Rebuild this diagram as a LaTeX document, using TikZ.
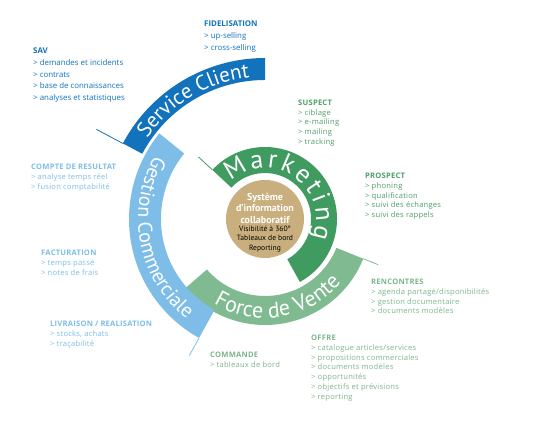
\documentclass[tikz,border=0pt]{standalone}
\usepackage{fontspec}
\setmainfont{Open Sans}
\newfontfamily\ringfont{PT Sans}
\newfontfamily\lblfont[LetterSpace=3]{Open Sans}
\usetikzlibrary{decorations.text,calc}
\definecolor{dblue}{HTML}{1273BC}
\definecolor{lblue}{HTML}{7DBDE7}
\definecolor{dgreen}{HTML}{3F9B5F}
\definecolor{lgreen}{HTML}{80BA90}
\definecolor{beige}{HTML}{C9AF7E}
\definecolor{tdgreen}{HTML}{4E9E68}
\definecolor{tlgreen}{HTML}{7DB58C}
\newcommand\myring[5]{\fill[#1] ($(C)+(#2:#4pt)$) arc[start angle=#2,end angle=#3,radius=#4pt] -- ($(C)+(#3:#5pt)$) arc[start angle=#3,end angle=#2,radius=#5pt] -- cycle;}
\begin{document}
\begin{tikzpicture}[x=1pt,y=1pt,
  lbl/.style={anchor=north west,inner sep=0pt,align=left,font=\lblfont\fontsize{7.6}{9.9}\selectfont},
  lblbig/.style={anchor=north west,inner sep=0pt,align=left,font=\fontsize{7.9}{11.6}\selectfont},
  tick/.style={line width=0.8pt}]
\useasboundingbox (0,0) rectangle (548,435);
\coordinate (C) at (265,216);
% rings
\myring{dgreen}{137}{-61}{46}{72}
\myring{lgreen}{221}{338}{77}{106}
\myring{lblue}{141}{241}{104}{136}
\myring{dblue}{152}{90}{139}{161}
% ticks
\draw[tick,dgreen] ($(C)+(137:72pt)$) -- ($(C)+(137:91pt)$);
\draw[tick,dblue] ($(C)+(152:161pt)$) -- ($(C)+(152:191pt)$);
\draw[tick,lblue] ($(C)+(241:136pt)$) -- ($(C)+(241:156pt)$);
\draw[tick,lgreen] ($(C)+(338:106pt)$) -- ($(C)+(338:122pt)$);
% ring texts
\path[decorate,decoration={text along path,text align=center,
  text={|\ringfont\fontsize{21}{21}\selectfont\color{white}|Service Client}}]
  ($(C)+(152:142.5pt)$) arc[start angle=152,end angle=90,radius=142.5pt];
\path[decorate,decoration={text along path,text align=fit to path,
  text={|\ringfont\fontsize{26}{26}\selectfont\color{white}|Marketing}}]
  ($(C)+(132:51pt)$) arc[start angle=132,end angle=-22,radius=51pt];
\path[decorate,decoration={text along path,text align=center,
  text={|\ringfont\fontsize{20}{20}\selectfont\color{white}|Gestion Commerciale}}]
  ($(C)+(141:127pt)$) arc[start angle=141,end angle=241,radius=127pt];
\path[decorate,decoration={text along path,text align=center,
  text={|\ringfont\fontsize{22}{22}\selectfont\color{white}|Force de Vente}}]
  ($(C)+(221:99pt)$) arc[start angle=221,end angle=338,radius=99pt];
% centre
\fill[beige] (C) circle[radius=39pt];
\node[align=center,inner sep=0pt,anchor=south,text=white,
  font=\ringfont\fontsize{10}{11.4}\selectfont\bfseries] (centreA) at ($(C)+(0,-4.5)$)
  {Système\\d’information\\collaboratif};
\node[align=center,inner sep=0pt,anchor=north,text=black,
  font=\ringfont\fontsize{7.6}{9.6}\selectfont] (centreB) at ($(C)+(0,-6.5)$)
  {Visibilité à 360°\\Tableaux de bord\\Reporting};
% labels
\node[lblbig,text=dblue] (sav) at (33,387) {\textbf{SAV}\\> demandes et incidents\\> contrats\\> base de connaissances\\> analyses et statistiques};
\node[lblbig,text=dblue] (fid) at (204,414) {\textbf{FIDELISATION}\\> up-selling\\> cross-selling};
\node[lbl,text=tdgreen] (suspect) at (298,335.5) {\textbf{SUSPECT}\\> ciblage\\> e-mailing\\> mailing\\> tracking};
\node[lbl,text=tdgreen] (prospect) at (365,262.5) {\textbf{PROSPECT}\\> phoning\\> qualification\\> suivi des échanges\\> suivi des rappels};
\node[lbl,text=lblue] (compte) at (31,271.5) {\textbf{COMPTE DE RESULTAT}\\> analyse temps réel\\> fusion comptabilité};
\node[lbl,text=lblue] (factu) at (41,185.5) {\textbf{FACTURATION}\\> temps passé\\> notes de frais};
\node[lbl,text=lblue] (livr) at (50,114.5) {\textbf{LIVRAISON / REALISATION}\\> stocks, achats\\> traçabilité};
\node[lbl,text=tlgreen] (commande) at (210,83.5) {\textbf{COMMANDE}\\> tableaux de bord};
\node[lbl,text=tlgreen] (rencontres) at (371,156.5) {\textbf{RENCONTRES}\\> agenda partagé/disponibilités\\> gestion documentaire\\> documents modèles};
\node[lbl,text=tlgreen] (offre) at (311,100.5) {\textbf{OFFRE}\\> catalogue articles/services\\> propositions commerciales\\> documents modèles\\> opportunités\\> objectifs et prévisions\\> reporting};
\end{tikzpicture}
\end{document}
